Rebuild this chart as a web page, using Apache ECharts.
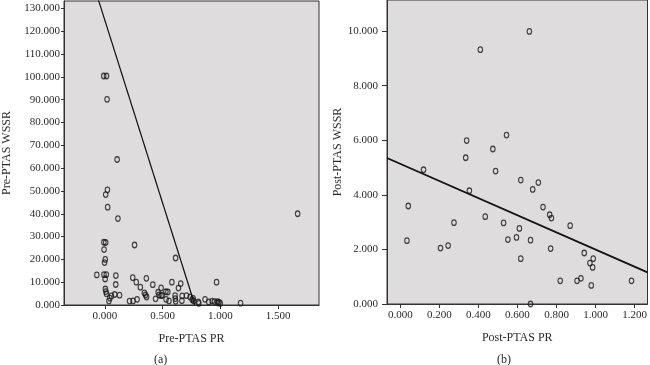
<!DOCTYPE html>
<html>
<head>
<meta charset="utf-8">
<script src="https://cdn.jsdelivr.net/npm/echarts@6/dist/echarts.min.js"></script>
<style>
html,body{margin:0;padding:0;background:#fff;}
#c{width:650px;height:365px;}
</style>
</head>
<body>
<div id="c"></div>
<script>
// ---- Panel (a): Pre-PTAS ----
const preX = [-0.009,0.015,0.02,0.107,0.023,0.008,0.025,0.114,1.67,0.258,-0.008,0.008,-0.006,0.613,0.004,-0.002,-0.069,-0.007,0.013,0.003,0.096,0.095,0.242,0.273,0.36,0.416,0.308,0.488,0.581,0.658,0.638,0.546,0.968,0.005,0.01,0.015,0.086,0.058,0.044,0.036,0.128,0.214,0.245,0.28,0.343,0.353,0.362,0.44,0.462,0.47,0.488,0.531,0.556,0.609,0.611,0.614,0.668,0.67,0.708,0.739,0.757,0.77,0.765,0.815,0.868,0.9,0.93,0.95,0.98,0.99,1.0,0.975,1.176,0.81,0.498,0.529];
const preY = [100.4,100.4,90.2,63.8,50.5,48.4,42.9,37.9,40.0,26.3,27.5,27.4,24.3,20.6,20.0,18.6,13.2,13.3,13.3,11.4,12.9,9.0,12.0,10.0,11.7,8.9,7.8,7.5,10.0,9.4,7.4,5.7,10.0,7.0,5.9,4.9,4.6,4.0,3.0,1.7,4.3,1.7,1.8,2.5,5.3,4.4,3.5,2.7,5.6,4.4,4.1,2.5,1.8,4.1,2.8,1.6,1.9,4.0,4.1,3.5,2.3,1.7,2.9,0.7,2.5,1.3,1.7,1.5,0.9,1.2,0.7,1.5,0.8,1.3,4.3,5.8];
const preLineX = [-0.06, 0.78];
const preLineY = [134.6, 0.0];
const preXTicks = [0, 0.5, 1.0, 1.5];
const preYTicks = [0,10,20,30,40,50,60,70,80,90,100,110,120,130];

// ---- Panel (b): Post-PTAS ----
const postX = [0.661,0.41,0.544,0.34,0.474,0.335,0.119,0.488,0.617,0.707,0.678,0.354,0.041,0.731,0.765,0.774,0.435,0.275,0.529,0.87,0.61,0.595,0.551,0.667,0.034,0.245,0.206,0.77,0.942,0.988,0.617,0.971,0.985,0.925,0.905,0.819,1.184,0.978,0.667];
const postY = [9.99,9.32,6.19,5.99,5.68,5.36,4.92,4.87,4.54,4.45,4.20,4.15,3.59,3.55,3.27,3.15,3.20,2.98,2.97,2.87,2.77,2.44,2.36,2.34,2.32,2.14,2.05,2.03,1.87,1.66,1.66,1.50,1.34,0.94,0.85,0.85,0.85,0.68,0.0];
const postLineX = [-0.068, 1.266];
const postLineY = [5.35, 1.16];
const postXTicks = [0,0.2,0.4,0.6,0.8,1.0,1.2];
const postYTicks = [0,2,4,6,8,10];

const zip = (a, b) => a.map((v, i) => [v, b[i]]);
const FONT = 'Liberation Serif';
const TXT = '#2a2a2a';
const fmt = v => Number(v).toFixed(3);

function xAxisCfg(idx, min, max, ticks, name, tickLen, margin) {
  return {
    type: 'value', gridIndex: idx, min: min, max: max,
    name: name, nameLocation: 'middle', nameGap: 28,
    nameTextStyle: { fontFamily: FONT, fontSize: 12, color: TXT },
    axisLine: { show: true, onZero: false, lineStyle: { color: '#333', width: 1 } },
    axisTick: { show: true, length: tickLen, lineStyle: { color: '#333' }, customValues: ticks },
    axisLabel: { fontFamily: FONT, fontSize: 11, color: TXT, margin: margin, formatter: fmt, customValues: ticks },
    splitLine: { show: false }
  };
}
function yAxisCfg(idx, min, max, ticks, name, gap, tickLen, margin) {
  return {
    type: 'value', gridIndex: idx, min: min, max: max,
    name: name, nameLocation: 'middle', nameGap: gap,
    nameTextStyle: { fontFamily: FONT, fontSize: 12, color: TXT },
    axisLine: { show: true, onZero: false, lineStyle: { color: '#333', width: 1 } },
    axisTick: { show: true, length: tickLen, lineStyle: { color: '#333' }, customValues: ticks },
    axisLabel: { fontFamily: FONT, fontSize: 11, color: TXT, margin: margin, formatter: fmt, customValues: ticks },
    splitLine: { show: false }
  };
}

const scatterStyle = { color: 'rgba(0,0,0,0)', borderColor: '#1a1a1a', borderWidth: 1.2 };

const chart = echarts.init(document.getElementById('c'), null, { renderer: 'canvas' });
chart.setOption({
  animation: false,
  backgroundColor: '#ffffff',
  grid: [
    { left: 64, top: 1, width: 255, height: 304, show: true, backgroundColor: '#dedcdd', borderColor: '#333', borderWidth: 1 },
    { left: 387, top: 0, width: 262, height: 304, show: true, backgroundColor: '#dedcdd', borderColor: '#333', borderWidth: 1 }
  ],
  xAxis: [
    xAxisCfg(0, -0.353, 1.855, preXTicks, 'Pre-PTAS PR', 4, 6),
    xAxisCfg(1, -0.068, 1.266, postXTicks, 'Post-PTAS PR', 4, 6)
  ],
  yAxis: [
    yAxisCfg(0, 0, 133.3, preYTicks, 'Pre-PTAS WSSR', 51, 3, 4),
    yAxisCfg(1, 0, 11.14, postYTicks, 'Post-PTAS WSSR', 43, 5, 9)
  ],
  series: [
    { type: 'scatter', xAxisIndex: 0, yAxisIndex: 0, data: zip(preX, preY), symbol: 'circle', symbolSize: [4.5, 5.5], itemStyle: scatterStyle, z: 3 },
    { type: 'line', xAxisIndex: 0, yAxisIndex: 0, data: zip(preLineX, preLineY), symbol: 'none', clip: true, lineStyle: { color: '#111', width: 1.2 }, z: 4 },
    { type: 'scatter', xAxisIndex: 1, yAxisIndex: 1, data: zip(postX, postY), symbol: 'circle', symbolSize: [4.5, 5.5], itemStyle: scatterStyle, z: 3 },
    { type: 'line', xAxisIndex: 1, yAxisIndex: 1, data: zip(postLineX, postLineY), symbol: 'none', clip: true, lineStyle: { color: '#111', width: 1.8 }, z: 4 }
  ],
  graphic: [
    { type: 'text', left: 154, top: 354, style: { text: '(a)', font: '12px "Liberation Serif"', fill: TXT } },
    { type: 'text', left: 497, top: 354, style: { text: '(b)', font: '12px "Liberation Serif"', fill: TXT } }
  ]
});
</script>
</body>
</html>
